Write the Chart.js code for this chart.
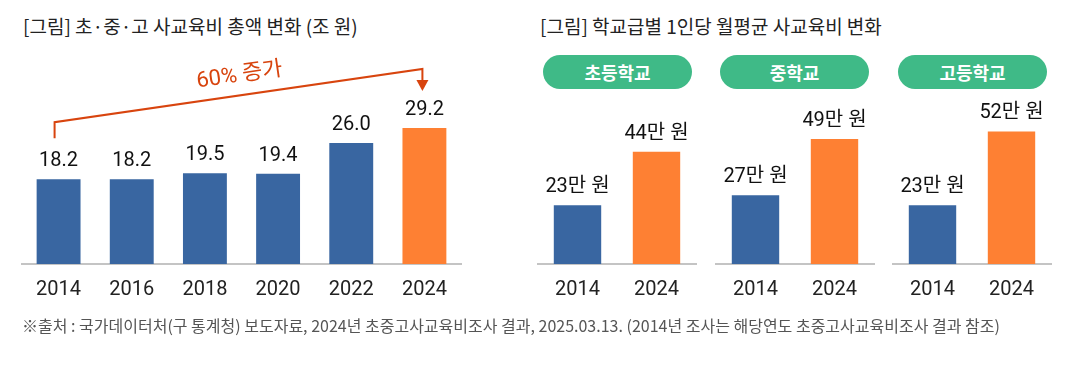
<!DOCTYPE html>
<html>
<head>
<meta charset="utf-8">
<script src="https://cdn.jsdelivr.net/npm/chart.js@4.4.1/dist/chart.umd.min.js"></script>
<style>
  body { margin: 0; background: #fff; width: 1070px; height: 370px; position: relative; overflow: hidden;
         font-family: Roboto, "Noto Sans CJK KR", sans-serif; }
  .title { position: absolute; top: 13px; height: 26px; line-height: 26px; font-size: 19px; color: #222;
           font-family: "Noto Sans CJK KR", sans-serif; white-space: nowrap; }
  .pill { position: absolute; top: 55px; width: 149px; height: 34px; line-height: 34px; border-radius: 17px;
          background: #3fba87; color: #fff; font-weight: bold; font-size: 18px; text-align: center;
          font-family: "Noto Sans CJK KR", sans-serif; }
  .box { position: absolute; }
  .foot { position: absolute; left: 22px; top: 315px; line-height: 20px; font-size: 16px; color: #555;
          font-family: "Noto Sans CJK KR", sans-serif; white-space: nowrap; }
</style>
</head>
<body>

<div class="title" style="left:23px">[그림] 초·중·고 사교육비 총액 변화 (조 원)</div>
<div class="title" style="left:540px">[그림] 학교급별 1인당 월평균 사교육비 변화</div>

<div class="box" style="left:20px;top:40px;width:445px;height:286px"><canvas id="totalChart"></canvas></div>

<div class="pill" style="left:543px">초등학교</div>
<div class="pill" style="left:720px">중학교</div>
<div class="pill" style="left:898px">고등학교</div>

<div class="box" style="left:536px;top:90px;width:162px;height:236px"><canvas id="school0"></canvas></div>
<div class="box" style="left:714px;top:90px;width:162px;height:236px"><canvas id="school1"></canvas></div>
<div class="box" style="left:891px;top:90px;width:162px;height:236px"><canvas id="school2"></canvas></div>

<div class="foot">※출처 : 국가데이터처(구 통계청) 보도자료, 2024년 초중고사교육비조사 결과, 2025.03.13. (2014년 조사는 해당연도 초중고사교육비조사 결과 참조)</div>

<script>
// data
const years = ['2014', '2016', '2018', '2020', '2022', '2024'];
const totalCost = [18.2, 18.2, 19.5, 19.4, 26.0, 29.2];   // 조 원

const schoolYears = ['2014', '2024'];
const elementary = [23, 44];   // 만 원
const middle = [27, 49];
const high = [23, 52];
const schoolSeries = [elementary, middle, high];

const increaseText = '60% 증가';

const BLUE = '#3966a1';
const ORANGE = '#fe8033';
const ARROW = '#d8440e';
const FONT = 'Roboto, "Noto Sans CJK KR", sans-serif';

function barColors(n) {
  let c = [];
  for (let i = 0; i < n; i++) c.push(i == n - 1 ? ORANGE : BLUE);
  return c;
}

// value labels above the bars
function valueLabels(fmt) {
  return {
    id: 'valueLabels',
    afterDatasetsDraw(chart) {
      const ctx = chart.ctx;
      const meta = chart.getDatasetMeta(0);
      const vals = chart.data.datasets[0].data;
      ctx.save();
      ctx.font = '20px ' + FONT;
      ctx.fillStyle = '#111';
      ctx.textAlign = 'center';
      ctx.textBaseline = 'alphabetic';
      meta.data.forEach(function (bar, i) {
        ctx.fillText(fmt(vals[i]), bar.x, bar.y - 13);
      });
      ctx.restore();
    }
  };
}

// bracket arrow from 2014 to 2024
const increaseArrow = {
  id: 'increaseArrow',
  afterDatasetsDraw(chart) {
    const ctx = chart.ctx;
    const xs = chart.scales.x, ys = chart.scales.y;
    const last = totalCost.length - 1;
    const x1 = xs.getPixelForValue(0) - 4;
    const x2 = xs.getPixelForValue(last) - 2;
    const yLeftBottom = ys.getPixelForValue(totalCost[0]) - 41;
    const yLeftTop = yLeftBottom - 16;
    const tipY = ys.getPixelForValue(totalCost[last]) - 37;
    const yRightTop = tipY - 22;

    ctx.save();
    ctx.strokeStyle = ARROW;
    ctx.fillStyle = ARROW;
    ctx.lineWidth = 2;
    ctx.beginPath();
    ctx.moveTo(x1, yLeftBottom);
    ctx.lineTo(x1, yLeftTop);
    ctx.lineTo(x2, yRightTop);
    ctx.lineTo(x2, tipY - 10);
    ctx.stroke();
    ctx.beginPath();
    ctx.moveTo(x2 - 6, tipY - 11);
    ctx.lineTo(x2 + 6, tipY - 11);
    ctx.lineTo(x2, tipY);
    ctx.closePath();
    ctx.fill();

    const ang = Math.atan2(yRightTop - yLeftTop, x2 - x1);
    const mx = (x1 + x2) / 2 + 4, my = (yLeftTop + yRightTop) / 2;
    ctx.translate(mx, my);
    ctx.rotate(ang);
    ctx.font = '22px ' + FONT;
    ctx.textAlign = 'center';
    ctx.textBaseline = 'middle';
    ctx.fillText(increaseText, 0, -20);
    ctx.restore();
  }
};

function xAxis() {
  return {
    grid: { display: false, drawTicks: false },
    border: { display: true, color: '#c4c4c4', width: 2 },
    ticks: { color: '#222', font: { size: 20, family: FONT }, padding: 14 }
  };
}

new Chart(document.getElementById('totalChart'), {
  type: 'bar',
  data: {
    labels: years,
    datasets: [{
      data: totalCost,
      backgroundColor: barColors(totalCost.length),
      barPercentage: 0.6,
      categoryPercentage: 1
    }]
  },
  options: {
    responsive: true,
    maintainAspectRatio: false,
    animation: false,
    layout: { padding: { left: 2, right: 4, top: 47, bottom: 10 } },
    plugins: { legend: { display: false }, tooltip: { enabled: false } },
    scales: {
      x: xAxis(),
      y: { display: false, min: 0, max: 38 }
    }
  },
  plugins: [valueLabels(function (v) { return v.toFixed(1); }), increaseArrow]
});

schoolSeries.forEach(function (vals, k) {
  new Chart(document.getElementById('school' + k), {
    type: 'bar',
    data: {
      labels: schoolYears,
      datasets: [{
        data: vals,
        backgroundColor: barColors(vals.length),
        barPercentage: 0.6,
        categoryPercentage: 1
      }]
    },
    options: {
      responsive: true,
      maintainAspectRatio: false,
      animation: false,
      layout: { padding: { left: 2, right: 2, top: 21, bottom: 10 } },
      plugins: { legend: { display: false }, tooltip: { enabled: false } },
      scales: {
        x: xAxis(),
        y: { display: false, min: 0, max: 60 }
      }
    },
    plugins: [valueLabels(function (v) { return v + '만 원'; })]
  });
});
</script>
</body>
</html>
